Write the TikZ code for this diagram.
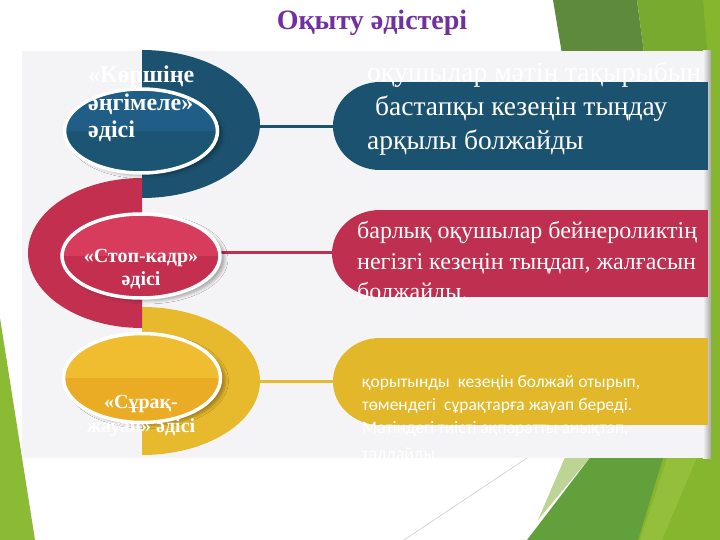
\documentclass[tikz,border=0pt]{standalone}
\usepackage{fontspec}
\setmainfont{Liberation Serif}
\newfontfamily\sansf{Carlito}
\usetikzlibrary{shapes.geometric,shadows.blur}
\definecolor{ringblue}{HTML}{1C5270}
\definecolor{ellblueT}{HTML}{215E87}
\definecolor{ellblueB}{HTML}{1C5574}
\definecolor{ringred}{HTML}{C3304F}
\definecolor{ellredT}{HTML}{D73C5C}
\definecolor{ellredB}{HTML}{C52F4F}
\definecolor{ringyel}{HTML}{E7B92C}
\definecolor{ellyelT}{HTML}{F0BD30}
\definecolor{ellyelB}{HTML}{E9AC24}
\definecolor{callblue}{HTML}{1B5270}
\definecolor{callred}{HTML}{BF2F4F}
\definecolor{callyel}{HTML}{E2B82A}
\definecolor{panel}{HTML}{F4F4F6}
\definecolor{titlepurple}{HTML}{7030A0}
\definecolor{gdark}{HTML}{5D8B3B}
\definecolor{gmid}{HTML}{78AA2F}
\definecolor{glime}{HTML}{86B52E}
\definecolor{glimeB}{HTML}{93BF3A}
\definecolor{gdarkB}{HTML}{62A03B}
\definecolor{gpale}{HTML}{BCD595}
\definecolor{glimeL}{HTML}{8BBA35}
\begin{document}
\begin{tikzpicture}[x=1pt,y=-1pt,
  ellnode/.style={ellipse, draw=white, line width=3.5pt, inner sep=0pt,
    blur shadow={shadow xshift=5pt, shadow yshift=-3pt, shadow blur radius=3pt, shadow opacity=30}},
  halfdark/.style={path picture={\fill[#1] (path picture bounding box.west) rectangle (path picture bounding box.south east);}},
  conn/.style={line width=3pt},
  calltext/.style={text=white, inner sep=0pt, anchor=base west},
  lbl/.style={text=white, inner sep=0pt}
]
\useasboundingbox (0,0) rectangle (720,540);
\fill[white] (0,0) rectangle (720,540);
% green decoration
\fill[glime] (703,0) -- (720,0) -- (720,540) -- (703,540) -- cycle;
\fill[gdark] (553,0) -- (637,0) -- (645,60) -- (563,60) -- cycle;
\fill[gmid] (637,0) -- (703,0) -- (708,60) -- (645,60) -- cycle;
\fill[glime] (650,455) -- (720,455) -- (720,540) -- (628,540) -- cycle;
\fill[glimeB] (668,455) -- (698,455) -- (662,540) -- (640,540) -- cycle;
\fill[gpale] (566,455) -- (592,455) -- (538,520) -- cycle;
\fill[gdarkB] (592,455) -- (664,455) -- (638,540) -- (527,540) -- cycle;
\fill[glimeL] (0,318) -- (35,540) -- (0,540) -- cycle;
\draw[gray!40, line width=0.6pt] (527,458) -- (404,540);
% panel
\fill[panel] (22,51) rectangle (710,458);
\shade[left color=panel, right color=black!35] (703,51) rectangle (711,458);
% coordinates
\coordinate (cA) at (142,124);
\coordinate (cB) at (142,253);
\coordinate (cC) at (142,381);
\coordinate (tA) at (333,127);
\coordinate (tB) at (332,252);
\coordinate (tC) at (333,381);
% connectors
\draw[conn, ringblue] (cA |- tA) -- (tA);
\draw[conn, ringred] (cB |- tB) -- (tB);
\draw[conn, ringyel] (cC |- tC) -- (tC);
% rings
\begin{scope}
\clip (142,51) rectangle (711,458);
\fill[ringblue] (cA) ellipse [x radius=118, y radius=74];
\fill[ringyel] (cC) ellipse [x radius=118, y radius=74];
\end{scope}
\begin{scope}
\clip (22,51) rectangle (142,458);
\fill[ringred] (cB) ellipse [x radius=114, y radius=75];
\end{scope}
% callouts
\fill[callblue] (380,126) ellipse [x radius=47, y radius=44];
\fill[callblue] (380,82) rectangle (708,170);
\fill[callred] (380,253.5) ellipse [x radius=48, y radius=43.5];
\fill[callred] (380,210) rectangle (708,297);
\fill[callyel] (380,381.5) ellipse [x radius=47, y radius=43.5];
\fill[callyel] (380,338) rectangle (708,425);
% ellipse buttons
\node[ellnode, fill=ellblueT, halfdark=ellblueB, minimum width=153pt, minimum height=84pt] (eA) at (141,131) {};
\node[ellnode, fill=ellredT, halfdark=ellredB, minimum width=158pt, minimum height=84pt] (eB) at (141,256) {};
\node[ellnode, fill=ellyelT, halfdark=ellyelB, minimum width=157pt, minimum height=89pt] (eC) at (142,378) {};
% title
\node[text=titlepurple, font=\bfseries\fontsize{28}{32}\selectfont, anchor=base, inner sep=0pt] (title) at (372,30) {Оқыту әдістері};
% callout texts
\node[calltext, font=\fontsize{27.5}{34}\selectfont] (txA) at (367,82) {\begin{tabular}[t]{@{}l@{}}оқушылар мәтін тақырыбын\\\hspace{8pt}бастапқы кезеңін тыңдау\\арқылы болжайды\end{tabular}};
\node[calltext, font=\fontsize{24}{30}\selectfont] (txB) at (357,239) {\begin{tabular}[t]{@{}l@{}}барлық оқушылар бейнероликтің\\негізгі кезеңін тыңдап, жалғасын\\болжайды.\end{tabular}};
\node[calltext, font=\sansf\fontsize{17.5}{23}\selectfont] (txC) at (362,387) {\begin{tabular}[t]{@{}l@{}}қорытынды\ \ кезеңін болжай отырып,\\төмендегі\ \ сұрақтарға жауап береді.\\Мәтіндегі тиісті ақпаратты анықтап,\\[3pt]талдайды.\end{tabular}};
% labels
\node[lbl, anchor=base west, font=\bfseries\fontsize{24}{27.5}\selectfont] (lA) at (88,83) {\begin{tabular}[t]{@{}l@{}}«Көршіңе\\әңгімеле»\\әдісі\end{tabular}};
\node[lbl, anchor=base, font=\bfseries\fontsize{20}{23}\selectfont] (lB) at (141,262.5) {\begin{tabular}[t]{@{}c@{}}«Стоп-кадр»\\әдісі\end{tabular}};
\node[lbl, anchor=base, font=\bfseries\fontsize{20}{24}\selectfont] (lC) at (141,408.5) {\begin{tabular}[t]{@{}c@{}}«Сұрақ-\\жауап» әдісі\end{tabular}};
\end{tikzpicture}
\end{document}
